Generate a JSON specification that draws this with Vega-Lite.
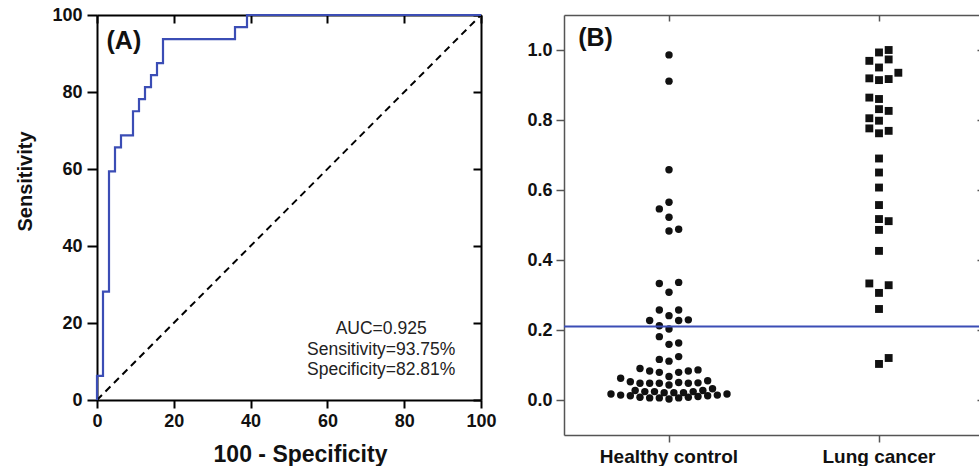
{
  "$schema": "https://vega.github.io/schema/vega-lite/v6.json",
  "padding": {"left": 15, "top": 6, "right": 0, "bottom": 0},
  "background": "white",
  "config": {"font": "Liberation Sans", "view": {"stroke": null}, "axis": {"grid": false}},
  "spacing": 83,
  "bounds": "flush",
  "datasets": {
    "diag": [{"x": 0, "y": 0}, {"x": 100, "y": 100}],
    "roc": [
      {"i": 0, "fpr": 0, "tpr": 0},
      {"i": 1, "fpr": 0, "tpr": 6.25},
      {"i": 2, "fpr": 1.5625, "tpr": 28.125},
      {"i": 3, "fpr": 3.125, "tpr": 59.375},
      {"i": 4, "fpr": 4.6875, "tpr": 65.625},
      {"i": 5, "fpr": 6.25, "tpr": 68.75},
      {"i": 6, "fpr": 9.375, "tpr": 75},
      {"i": 7, "fpr": 10.9375, "tpr": 78.125},
      {"i": 8, "fpr": 12.5, "tpr": 81.25},
      {"i": 9, "fpr": 14.0625, "tpr": 84.375},
      {"i": 10, "fpr": 15.625, "tpr": 87.5},
      {"i": 11, "fpr": 17.1875, "tpr": 93.75},
      {"i": 12, "fpr": 35.9375, "tpr": 96.875},
      {"i": 13, "fpr": 39.0625, "tpr": 100},
      {"i": 14, "fpr": 100, "tpr": 100}
    ],
    "annot": [
      {"x": 74, "y": 18.4, "label": "AUC=0.925"},
      {"x": 74, "y": 13.0, "label": "Sensitivity=93.75%"},
      {"x": 74, "y": 7.7, "label": "Specificity=82.81%"}
    ],
    "panelA": [{"x": 7, "y": 93.3, "label": "(A)"}],
    "swarm": [
      {"group": "Healthy control", "value": 0.986, "slot": 0},
      {"group": "Healthy control", "value": 0.911, "slot": 0},
      {"group": "Healthy control", "value": 0.658, "slot": 0},
      {"group": "Healthy control", "value": 0.565, "slot": 0},
      {"group": "Healthy control", "value": 0.546, "slot": -1},
      {"group": "Healthy control", "value": 0.522, "slot": 0},
      {"group": "Healthy control", "value": 0.483, "slot": 0},
      {"group": "Healthy control", "value": 0.488, "slot": 1},
      {"group": "Healthy control", "value": 0.333, "slot": -1},
      {"group": "Healthy control", "value": 0.336, "slot": 1},
      {"group": "Healthy control", "value": 0.308, "slot": 0},
      {"group": "Healthy control", "value": 0.257, "slot": -1},
      {"group": "Healthy control", "value": 0.257, "slot": 1},
      {"group": "Healthy control", "value": 0.241, "slot": 0},
      {"group": "Healthy control", "value": 0.227, "slot": -2},
      {"group": "Healthy control", "value": 0.227, "slot": 1},
      {"group": "Healthy control", "value": 0.229, "slot": 2},
      {"group": "Healthy control", "value": 0.212, "slot": -1},
      {"group": "Healthy control", "value": 0.203, "slot": 0},
      {"group": "Healthy control", "value": 0.181, "slot": -1},
      {"group": "Healthy control", "value": 0.159, "slot": 0},
      {"group": "Healthy control", "value": 0.163, "slot": 1},
      {"group": "Healthy control", "value": 0.116, "slot": -1},
      {"group": "Healthy control", "value": 0.111, "slot": 0},
      {"group": "Healthy control", "value": 0.124, "slot": 1},
      {"group": "Healthy control", "value": 0.090, "slot": -3},
      {"group": "Healthy control", "value": 0.083, "slot": -2},
      {"group": "Healthy control", "value": 0.079, "slot": -1},
      {"group": "Healthy control", "value": 0.067, "slot": 0},
      {"group": "Healthy control", "value": 0.079, "slot": 1},
      {"group": "Healthy control", "value": 0.083, "slot": 2},
      {"group": "Healthy control", "value": 0.086, "slot": 3},
      {"group": "Healthy control", "value": 0.062, "slot": -5},
      {"group": "Healthy control", "value": 0.052, "slot": -4},
      {"group": "Healthy control", "value": 0.048, "slot": -3},
      {"group": "Healthy control", "value": 0.048, "slot": -2},
      {"group": "Healthy control", "value": 0.048, "slot": -1},
      {"group": "Healthy control", "value": 0.043, "slot": 0},
      {"group": "Healthy control", "value": 0.050, "slot": 1},
      {"group": "Healthy control", "value": 0.048, "slot": 2},
      {"group": "Healthy control", "value": 0.049, "slot": 3},
      {"group": "Healthy control", "value": 0.055, "slot": 4},
      {"group": "Healthy control", "value": 0.027, "slot": -3.5},
      {"group": "Healthy control", "value": 0.024, "slot": -2.5},
      {"group": "Healthy control", "value": 0.024, "slot": -1.5},
      {"group": "Healthy control", "value": 0.021, "slot": -0.5},
      {"group": "Healthy control", "value": 0.021, "slot": 0.5},
      {"group": "Healthy control", "value": 0.021, "slot": 1.5},
      {"group": "Healthy control", "value": 0.024, "slot": 2.5},
      {"group": "Healthy control", "value": 0.027, "slot": 3.5},
      {"group": "Healthy control", "value": 0.032, "slot": 4.5},
      {"group": "Healthy control", "value": 0.017, "slot": -6},
      {"group": "Healthy control", "value": 0.014, "slot": -5},
      {"group": "Healthy control", "value": 0.012, "slot": -4},
      {"group": "Healthy control", "value": 0.008, "slot": -3},
      {"group": "Healthy control", "value": 0.006, "slot": -2},
      {"group": "Healthy control", "value": 0.006, "slot": -1},
      {"group": "Healthy control", "value": 0.003, "slot": 0},
      {"group": "Healthy control", "value": 0.006, "slot": 1},
      {"group": "Healthy control", "value": 0.008, "slot": 2},
      {"group": "Healthy control", "value": 0.010, "slot": 3},
      {"group": "Healthy control", "value": 0.012, "slot": 4},
      {"group": "Healthy control", "value": 0.014, "slot": 5},
      {"group": "Healthy control", "value": 0.017, "slot": 6},
      {"group": "Lung cancer", "value": 1.0, "slot": 1},
      {"group": "Lung cancer", "value": 0.993, "slot": 0},
      {"group": "Lung cancer", "value": 0.969, "slot": -1},
      {"group": "Lung cancer", "value": 0.973, "slot": 1},
      {"group": "Lung cancer", "value": 0.950, "slot": 0},
      {"group": "Lung cancer", "value": 0.919, "slot": -1},
      {"group": "Lung cancer", "value": 0.914, "slot": 0},
      {"group": "Lung cancer", "value": 0.917, "slot": 1},
      {"group": "Lung cancer", "value": 0.935, "slot": 2},
      {"group": "Lung cancer", "value": 0.864, "slot": -1},
      {"group": "Lung cancer", "value": 0.860, "slot": 0},
      {"group": "Lung cancer", "value": 0.831, "slot": 0},
      {"group": "Lung cancer", "value": 0.826, "slot": 1},
      {"group": "Lung cancer", "value": 0.805, "slot": -1},
      {"group": "Lung cancer", "value": 0.798, "slot": 0},
      {"group": "Lung cancer", "value": 0.776, "slot": -1},
      {"group": "Lung cancer", "value": 0.762, "slot": 0},
      {"group": "Lung cancer", "value": 0.769, "slot": 1},
      {"group": "Lung cancer", "value": 0.690, "slot": 0},
      {"group": "Lung cancer", "value": 0.650, "slot": 0},
      {"group": "Lung cancer", "value": 0.607, "slot": 0},
      {"group": "Lung cancer", "value": 0.557, "slot": 0},
      {"group": "Lung cancer", "value": 0.517, "slot": 0},
      {"group": "Lung cancer", "value": 0.511, "slot": 1},
      {"group": "Lung cancer", "value": 0.486, "slot": 0},
      {"group": "Lung cancer", "value": 0.426, "slot": 0},
      {"group": "Lung cancer", "value": 0.333, "slot": -1},
      {"group": "Lung cancer", "value": 0.328, "slot": 1},
      {"group": "Lung cancer", "value": 0.306, "slot": 0},
      {"group": "Lung cancer", "value": 0.260, "slot": 0},
      {"group": "Lung cancer", "value": 0.103, "slot": 0},
      {"group": "Lung cancer", "value": 0.120, "slot": 1}
    ],
    "cutoff": [{"value": 0.21}],
    "panelB": [{"group": "Healthy control", "slot": -7.6, "value": 1.035, "label": "(B)"}]
  },
  "hconcat": [
    {
      "width": 384,
      "height": 385,
      "layer": [
        {
          "data": {"name": "diag"},
          "mark": {"type": "line", "color": "black", "strokeWidth": 2, "strokeDash": [7, 5]},
          "encoding": {
            "x": {"field": "x", "type": "quantitative", "scale": {"domain": [0, 100], "nice": false},
              "axis": {"orient": "bottom", "values": [0, 20, 40, 60, 80, 100], "title": "100 - Specificity",
                "domainColor": "black", "domainWidth": 2, "tickColor": "black", "tickWidth": 2, "tickSize": 8,
                "labelFontSize": 18, "labelFontWeight": "bold", "labelColor": "#111", "labelPadding": 4,
                "titleFontSize": 23, "titleFontWeight": "bold", "titleColor": "#111", "titlePadding": 13, "titleX": 203, "labelFlush": false}},
            "y": {"field": "y", "type": "quantitative", "scale": {"domain": [0, 100], "nice": false},
              "axis": {"orient": "left", "values": [0, 20, 40, 60, 80, 100], "title": "Sensitivity",
                "domainColor": "black", "domainWidth": 2, "tickColor": "black", "tickWidth": 2, "tickSize": 10,
                "labelFontSize": 18, "labelFontWeight": "bold", "labelColor": "#111", "labelPadding": 5,
                "titleFontSize": 20, "titleFontWeight": "bold", "titleColor": "#111", "titlePadding": 16, "titleY": 166, "labelFlush": false}}
          }
        },
        {
          "data": {"name": "roc"},
          "mark": {"type": "line", "color": "#3b4db5", "strokeWidth": 2.2, "interpolate": "step-after"},
          "encoding": {
            "x": {"field": "fpr", "type": "quantitative",
              "axis": {"orient": "top", "values": [0, 20, 40, 60, 80, 100], "labels": false, "title": null,
                "domainColor": "black", "domainWidth": 2, "tickColor": "black", "tickWidth": 2, "tickSize": -8}},
            "y": {"field": "tpr", "type": "quantitative",
              "axis": {"orient": "right", "values": [0, 20, 40, 60, 80, 100], "labels": false, "title": null,
                "domainColor": "black", "domainWidth": 2, "tickColor": "black", "tickWidth": 2, "tickSize": -8}},
            "order": {"field": "i", "type": "quantitative"}
          }
        },
        {
          "data": {"name": "annot"},
          "mark": {"type": "text", "fontSize": 17.5, "color": "#222", "align": "center", "baseline": "middle"},
          "encoding": {
            "x": {"field": "x", "type": "quantitative", "axis": null},
            "y": {"field": "y", "type": "quantitative", "axis": null},
            "text": {"field": "label"}
          }
        },
        {
          "data": {"name": "panelA"},
          "mark": {"type": "text", "fontSize": 25, "fontWeight": "bold", "color": "#111", "align": "center", "baseline": "middle"},
          "encoding": {
            "x": {"field": "x", "type": "quantitative", "axis": null},
            "y": {"field": "y", "type": "quantitative", "axis": null},
            "text": {"field": "label"}
          }
        }
      ],
      "resolve": {"axis": {"x": "independent", "y": "independent"}}
    },
    {
      "width": 420,
      "height": 420,
      "layer": [
        {
          "data": {"name": "swarm"},
          "mark": {"type": "point", "filled": true, "opacity": 1, "color": "#111"},
          "encoding": {
            "x": {"field": "group", "type": "nominal",
              "scale": {"type": "band", "domain": ["Healthy control", "Lung cancer"], "paddingInner": 0, "paddingOuter": 0},
              "axis": {"orient": "bottom", "title": null, "labelAngle": 0, "domainColor": "#555", "domainWidth": 1.5,
                "tickColor": "#555", "tickWidth": 1.5, "tickSize": 7, "labelFontSize": 19, "labelFontWeight": "bold",
                "labelColor": "#111", "labelPadding": 5}},
            "xOffset": {"field": "slot", "type": "quantitative", "scale": {"domain": [-10.86, 10.86], "range": [0, 210]}},
            "y": {"field": "value", "type": "quantitative", "scale": {"domain": [-0.1, 1.1], "nice": false, "zero": false},
              "axis": {"orient": "left", "title": null, "values": [0, 0.2, 0.4, 0.6, 0.8, 1.0], "format": ".1f",
                "domainColor": "#555", "domainWidth": 1.5, "tickColor": "#555", "tickWidth": 1.5, "tickSize": 8,
                "labelFontSize": 18, "labelFontWeight": "bold", "labelColor": "#111", "labelPadding": 4}},
            "shape": {"field": "group", "type": "nominal", "scale": {"domain": ["Healthy control", "Lung cancer"], "range": ["circle", "square"]}, "legend": null},
            "size": {"field": "group", "type": "nominal", "scale": {"domain": ["Healthy control", "Lung cancer"], "range": [55, 62]}, "legend": null}
          }
        },
        {
          "data": {"name": "cutoff"},
          "mark": {"type": "rule", "color": "#3b4db5", "strokeWidth": 2.2},
          "encoding": {
            "y": {"field": "value", "type": "quantitative",
              "axis": {"orient": "right", "labels": false, "title": null, "values": [0, 0.2, 0.4, 0.6, 0.8, 1.0],
                "domainColor": "#555", "domainWidth": 1.5, "tickColor": "#555", "tickWidth": 1.5, "tickSize": -7}}
          }
        },
        {
          "data": {"name": "panelB"},
          "mark": {"type": "text", "fontSize": 25, "fontWeight": "bold", "color": "#111", "align": "center", "baseline": "middle"},
          "encoding": {
            "x": {"field": "group", "type": "nominal",
              "axis": {"orient": "top", "labels": false, "title": null, "domainColor": "#555", "domainWidth": 1.5,
                "tickColor": "#555", "tickWidth": 1.5, "tickSize": -6}},
            "xOffset": {"field": "slot", "type": "quantitative"},
            "y": {"field": "value", "type": "quantitative", "axis": null},
            "text": {"field": "label"}
          }
        }
      ],
      "resolve": {"axis": {"x": "independent", "y": "independent"}}
    }
  ]
}
